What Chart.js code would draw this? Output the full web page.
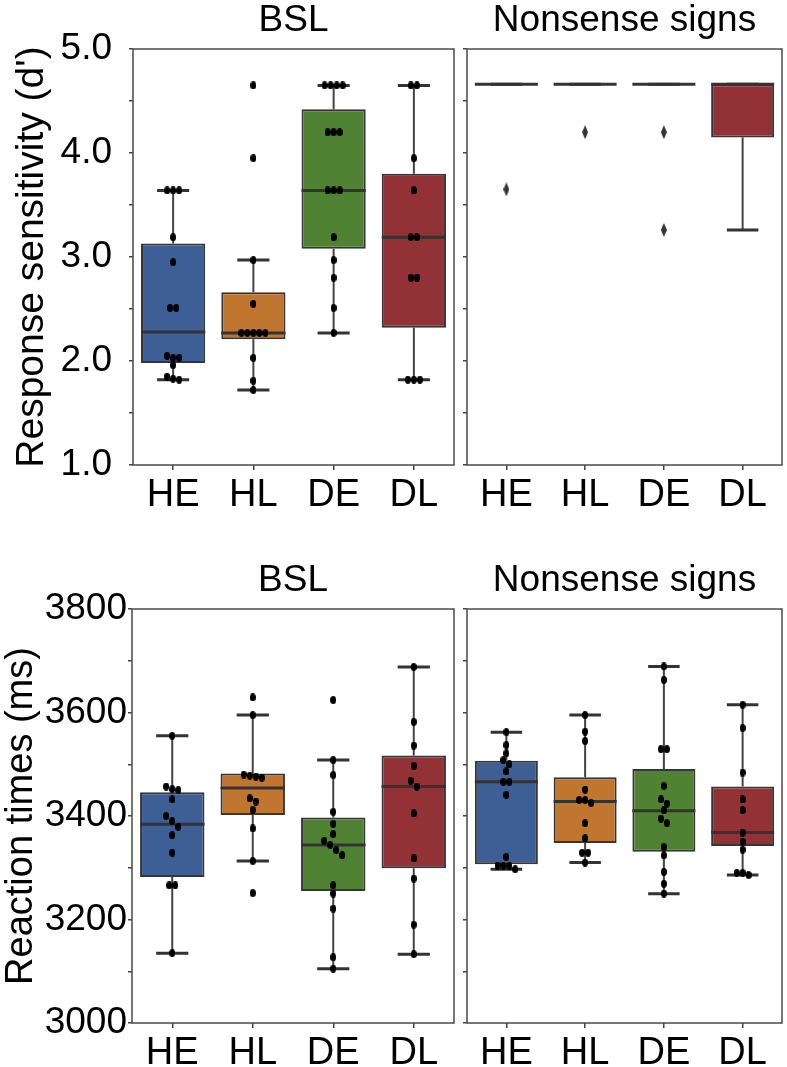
<!DOCTYPE html>
<html>
<head>
<meta charset="utf-8">
<script src="https://cdn.jsdelivr.net/npm/chart.js@4.4.0/dist/chart.umd.min.js"></script>
<style>
body{margin:0;background:#fff;width:787px;height:1067px;position:relative;overflow:hidden}
.panel{position:absolute}
</style>
</head>
<body>
<div class="panel" style="left:0;top:0;width:460px;height:523px"><canvas id="d_bsl"></canvas></div>
<div class="panel" style="left:460px;top:0;width:327px;height:523px"><canvas id="d_ns"></canvas></div>
<div class="panel" style="left:0;top:523px;width:460px;height:544px"><canvas id="rt_bsl"></canvas></div>
<div class="panel" style="left:460px;top:523px;width:327px;height:544px"><canvas id="rt_ns"></canvas></div>
<script>
// groups, colours
const cats   = ["HE", "HL", "DE", "DL"];
const colors = ["#3d5f95", "#c1762f", "#4f8233", "#923236"];

// response sensitivity (d'), BSL: points per group + box stats
const d_bsl_points = [
    [3.64, 3.64, 3.64, 3.19, 2.95, 2.51, 2.51, 2.05, 2.03, 2.03, 1.96, 1.85, 1.83, 1.82],
    [4.65, 3.95, 2.97, 2.55, 2.27, 2.27, 2.27, 2.27, 2.27, 2.03, 1.81, 1.72],
    [4.65, 4.65, 4.65, 4.65, 4.20, 4.20, 4.20, 3.64, 3.64, 3.64, 3.19, 2.97, 2.80, 2.51, 2.27],
    [4.65, 4.65, 3.95, 3.64, 3.19, 3.19, 2.80, 2.80, 1.82, 1.82, 1.82]
];
const d_bsl_low  = [1.82, 1.72, 2.27, 1.82];
const d_bsl_q1   = [1.98, 2.21, 3.08, 2.32];
const d_bsl_med  = [2.28, 2.27, 3.64, 3.19];
const d_bsl_q3   = [3.13, 2.66, 4.42, 3.80];
const d_bsl_high = [3.64, 2.97, 4.65, 4.65];

// response sensitivity (d'), nonsense signs: box stats + outliers
const d_ns_low   = [4.66, 4.66, 4.66, 3.26];
const d_ns_q1    = [4.66, 4.66, 4.66, 4.15];
const d_ns_med   = [4.66, 4.66, 4.66, 4.66];
const d_ns_q3    = [4.66, 4.66, 4.66, 4.66];
const d_ns_high  = [4.66, 4.66, 4.66, 4.66];
const d_ns_outliers = [[3.65], [4.20], [4.20, 3.26], []];

// reaction times (ms), BSL
const rt_bsl_points = [
    [3555, 3457, 3452, 3450, 3432, 3400, 3390, 3379, 3363, 3329, 3266, 3266, 3135],
    [3629, 3595, 3480, 3478, 3476, 3474, 3434, 3428, 3412, 3376, 3313, 3251],
    [3624, 3508, 3479, 3408, 3385, 3365, 3352, 3344, 3334, 3324, 3266, 3250, 3221, 3127, 3105],
    [3688, 3582, 3536, 3497, 3468, 3457, 3405, 3318, 3279, 3190, 3133]
];
const rt_bsl_low  = [3135, 3313, 3105, 3133];
const rt_bsl_q1   = [3282, 3402, 3255, 3299];
const rt_bsl_med  = [3384, 3454, 3344, 3457];
const rt_bsl_q3   = [3446, 3482, 3397, 3517];
const rt_bsl_high = [3555, 3595, 3508, 3688];

// reaction times (ms), nonsense signs
const rt_ns_points = [
    [3562, 3537, 3521, 3508, 3500, 3486, 3466, 3466, 3441, 3321, 3304, 3304, 3304, 3297],
    [3595, 3563, 3545, 3451, 3431, 3431, 3425, 3386, 3357, 3329, 3329, 3310],
    [3689, 3663, 3529, 3529, 3458, 3432, 3424, 3411, 3395, 3386, 3340, 3324, 3292, 3269, 3250],
    [3615, 3570, 3484, 3432, 3411, 3368, 3350, 3335, 3290, 3290, 3286]
];
const rt_ns_low  = [3297, 3310, 3250, 3286];
const rt_ns_q1   = [3307, 3348, 3331, 3342];
const rt_ns_med  = [3466, 3428, 3410, 3368];
const rt_ns_q3   = [3507, 3475, 3491, 3457];
const rt_ns_high = [3562, 3595, 3689, 3615];

Chart.defaults.font.family = "'Liberation Sans', Arial, sans-serif";
Chart.defaults.color = "#000";

function dot_image(){
    let c = document.createElement("canvas");
    c.width = 6; c.height = 8;
    let g = c.getContext("2d");
    g.fillStyle = "#000";
    g.beginPath();
    g.ellipse(3, 4, 3, 4, 0, 0, Math.PI*2);
    g.fill();
    return c;
}
function diamond_image(){
    let c = document.createElement("canvas");
    c.width = 6; c.height = 14;
    let g = c.getContext("2d");
    g.fillStyle = "#333";
    g.beginPath();
    g.moveTo(3, 0); g.lineTo(6, 7); g.lineTo(3, 14); g.lineTo(0, 7);
    g.closePath();
    g.fill();
    return c;
}
const dot = dot_image();
const diamond = diamond_image();

// spread near-equal values sideways, like a swarm
function swarm(vals, tol, gap){
    let order = vals.map((v, i) => i).sort((a, b) => vals[b] - vals[a]);
    let offs = new Array(vals.length).fill(0);
    let k = 0;
    while (k < order.length){
        let grp = [order[k]];
        while (k + grp.length < order.length &&
               Math.abs(vals[grp[grp.length-1]] - vals[order[k+grp.length]]) < tol){
            grp.push(order[k+grp.length]);
        }
        grp.forEach((j, n) => offs[j] = (n - (grp.length-1)/2) * gap);
        k += grp.length;
    }
    return offs;
}

const box_half = 0.4;

const box_plugin = {
    id: "box_parts",
    beforeDatasetsDraw(chart){
        const b = chart.options.plugins.box_parts;
        const xs = chart.scales.x, ys = chart.scales.y, ctx = chart.ctx;
        ctx.save();
        for (let i = 0; i < cats.length; i++){
            let xc = xs.getPixelForValue(i);
            let cw = xs.getPixelForValue(i + box_half/2) - xc;
            ctx.strokeStyle = "#444";
            ctx.lineWidth = 2;
            ctx.beginPath();
            ctx.moveTo(xc, ys.getPixelForValue(b.q3[i]));
            ctx.lineTo(xc, ys.getPixelForValue(b.high[i]));
            ctx.moveTo(xc, ys.getPixelForValue(b.q1[i]));
            ctx.lineTo(xc, ys.getPixelForValue(b.low[i]));
            ctx.stroke();
            ctx.lineWidth = 3;
            ctx.strokeStyle = "#333";
            ctx.beginPath();
            for (let v of [b.high[i], b.low[i]]){
                let y = ys.getPixelForValue(v);
                ctx.moveTo(xc - cw, y);
                ctx.lineTo(xc + cw, y);
            }
            ctx.stroke();
        }
        ctx.restore();
    },
    afterDatasetDraw(chart, args){
        if (args.index !== 0) return;
        const b = chart.options.plugins.box_parts;
        const xs = chart.scales.x, ys = chart.scales.y, ctx = chart.ctx;
        ctx.save();
        ctx.strokeStyle = "#333";
        ctx.lineWidth = 3;
        ctx.beginPath();
        for (let i = 0; i < cats.length; i++){
            let y = ys.getPixelForValue(b.med[i]);
            ctx.moveTo(xs.getPixelForValue(i - box_half), y);
            ctx.lineTo(xs.getPixelForValue(i + box_half), y);
        }
        ctx.stroke();
        ctx.restore();
    },
    afterDraw(chart){
        const a = chart.chartArea, ctx = chart.ctx;
        ctx.save();
        ctx.strokeStyle = "#4a4a4a";
        ctx.lineWidth = 1.5;
        ctx.strokeRect(a.left, a.top, a.right - a.left, a.bottom - a.top);
        ctx.restore();
    }
};

function draw_panel(id, p){
    let points = [];
    let outs = [];
    if (p.points){
        p.points.forEach((vals, i) => {
            let offs = swarm(vals, p.tol, 0.075);
            vals.forEach((v, j) => points.push({x: i + offs[j], y: v}));
        });
    }
    if (p.outliers){
        p.outliers.forEach((vals, i) => vals.forEach(v => outs.push({x: i, y: v})));
    }
    const ctx = document.getElementById(id).getContext("2d");
    new Chart(ctx, {
        type: "bar",
        data: {
            datasets: [
                {
                    type: "bar",
                    data: cats.map((c, i) => ({x: i, y: [p.q1[i], p.q3[i]]})),
                    backgroundColor: colors,
                    borderColor: "#363636",
                    borderWidth: 2,
                    borderSkipped: false,
                    barPercentage: 0.8,
                    categoryPercentage: 1,
                    order: 3
                },
                {
                    type: "scatter",
                    data: points,
                    pointStyle: dot,
                    order: 1
                },
                {
                    type: "scatter",
                    data: outs,
                    pointStyle: diamond,
                    order: 2
                }
            ]
        },
        options: {
            responsive: true,
            maintainAspectRatio: false,
            animation: false,
            layout: {padding: {right: p.padRight}},
            scales: {
                x: {
                    type: "linear",
                    min: -0.5,
                    max: 3.5,
                    offset: false,
                    afterBuildTicks: (s) => { s.ticks = cats.map((c, i) => ({value: i})); },
                    afterFit: (s) => { s.height = p.xHeight; },
                    grid: {drawOnChartArea: false, offset: false, tickLength: 5, color: "#444", lineWidth: 1.5},
                    border: {display: false},
                    ticks: {
                        font: {size: 38},
                        padding: 3,
                        maxRotation: 0,
                        autoSkip: false,
                        callback: (v) => cats[v]
                    }
                },
                y: {
                    min: p.yMin,
                    max: p.yMax,
                    afterFit: (s) => { s.width = p.yWidth; },
                    grid: {drawOnChartArea: false, tickLength: 4, color: "#444", lineWidth: 1.5},
                    border: {display: false},
                    title: {
                        display: !!p.yTitle,
                        text: p.yTitle,
                        font: {size: p.yTitleSize, lineHeight: 1.1},
                        padding: {top: p.yTitlePad, bottom: 0}
                    },
                    ticks: {
                        stepSize: p.yStep,
                        autoSkip: false,
                        font: {size: 37},
                        padding: p.yTickPad,
                        callback: p.yLabel
                    }
                }
            },
            plugins: {
                legend: {display: false},
                tooltip: {enabled: false},
                title: {
                    display: true,
                    text: p.title,
                    fullSize: false,
                    font: {size: 37, weight: "normal", lineHeight: 1.1},
                    color: "#000",
                    padding: p.titlePad
                },
                box_parts: {low: p.low, q1: p.q1, med: p.med, q3: p.q3, high: p.high}
            }
        },
        plugins: [box_plugin]
    });
}

const d_label  = (v) => Math.abs(v % 1) < 1e-6 ? v.toFixed(1) : "";
const rt_label = (v) => v % 200 === 0 ? String(v) : "";
const no_label = () => "";

draw_panel("d_bsl", {
    title: "BSL", titlePad: {top: 0, bottom: 8.3},
    yTitle: "Response sensitivity (d')", yTitlePad: 11, yTitleSize: 39,
    yMin: 1, yMax: 5, yStep: 0.5, yLabel: d_label, yTickPad: 17, yWidth: 133,
    xHeight: 58, padRight: 6, tol: 0.05,
    points: d_bsl_points,
    low: d_bsl_low, q1: d_bsl_q1, med: d_bsl_med, q3: d_bsl_q3, high: d_bsl_high
});
draw_panel("d_ns", {
    title: "Nonsense signs", titlePad: {top: 0, bottom: 8.3},
    yMin: 1, yMax: 5, yStep: 0.5, yLabel: no_label, yTickPad: 0, yWidth: 7,
    xHeight: 58, padRight: 4, tol: 0.05,
    outliers: d_ns_outliers,
    low: d_ns_low, q1: d_ns_q1, med: d_ns_med, q3: d_ns_q3, high: d_ns_high
});
draw_panel("rt_bsl", {
    title: "BSL", titlePad: {top: 37.6, bottom: 7.7},
    yTitle: "Reaction times (ms)", yTitlePad: 1, yTitleSize: 38,
    yMin: 3000, yMax: 3800, yStep: 100, yLabel: rt_label, yTickPad: 1, yWidth: 132,
    xHeight: 44, padRight: 6, tol: 12,
    points: rt_bsl_points,
    low: rt_bsl_low, q1: rt_bsl_q1, med: rt_bsl_med, q3: rt_bsl_q3, high: rt_bsl_high
});
draw_panel("rt_ns", {
    title: "Nonsense signs", titlePad: {top: 37.6, bottom: 7.7},
    yMin: 3000, yMax: 3800, yStep: 100, yLabel: no_label, yTickPad: 0, yWidth: 7,
    xHeight: 44, padRight: 4, tol: 12,
    points: rt_ns_points,
    low: rt_ns_low, q1: rt_ns_q1, med: rt_ns_med, q3: rt_ns_q3, high: rt_ns_high
});
</script>
</body>
</html>
